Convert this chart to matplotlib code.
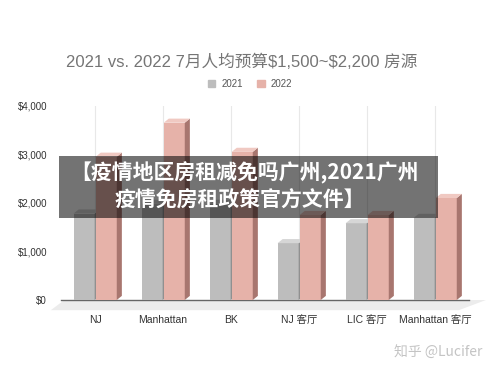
import matplotlib.pyplot as plt
from matplotlib.patches import Polygon, Patch, Rectangle

plt.rcParams['font.family'] = ['Liberation Sans', 'Noto Sans CJK SC', 'DejaVu Sans']

# data
categories = ["NJ", "Manhattan", "BK", "NJ 客厅", "LIC 客厅", "Manhattan 客厅"]
rent_2021 = [1780, 1980, 1980, 1170, 1580, 1690]
rent_2022 = [2950, 3650, 3050, 1750, 1750, 2100]
yticks = [0, 1000, 2000, 3000, 4000]
ytick_labels = ["\\$0", "\\$1,000", "\\$2,000", "\\$3,000", "\\$4,000"]

fig = plt.figure(figsize=(5, 3.75), dpi=100)
ax = fig.add_axes([0.122, 0.2, 0.816, 0.518])

x = list(range(len(categories)))
w = 0.31
dx, dy = 0.075, 85  # fake 3d depth

def bars3d(xs, vals, front, top, side):
    rects = ax.bar(xs, vals, width=w, color=front, zorder=3, clip_on=False)
    for r in rects:
        x0 = r.get_x()
        x1 = x0 + r.get_width()
        h = r.get_height()
        ax.add_patch(Polygon([(x1, 0), (x1 + dx, dy), (x1 + dx, h + dy), (x1, h)],
                             facecolor=side, edgecolor="none", zorder=3, clip_on=False))
        ax.add_patch(Polygon([(x0, h), (x1, h), (x1 + dx, h + dy), (x0 + dx, h + dy)],
                             facecolor=top, edgecolor="none", zorder=3, clip_on=False))

# floor
ax.add_patch(Polygon([(-0.65, -210), (5.35, -210), (5.75, 0), (-0.45, 0)],
                     facecolor="#ececec", edgecolor="none", zorder=1, clip_on=False))
ax.plot([-0.5, 5.5], [0, 0], color="#666666", lw=1, zorder=2, clip_on=False)

bars3d([i - 0.16 for i in x], rent_2021, "#bdbdbd", "#d6d6d6", "#909090")
bars3d([i + 0.165 for i in x], rent_2022, "#e6b2a9", "#f0c9c2", "#a8766f")

ax.set_xlim(-0.5, 5.5)
ax.set_ylim(0, 4000)
ax.set_xticks(x)
ax.set_xticklabels(categories, fontsize=7.5, color="#333333")
ax.set_yticks(yticks)
ax.set_yticklabels(ytick_labels, fontsize=7, color="#333333")
ax.tick_params(length=0)
ax.tick_params(axis="x", pad=11)
ax.tick_params(axis="y", pad=10)
ax.grid(axis="x", color="#e8e8e8", lw=0.8, zorder=0)
for s in ax.spines.values():
    s.set_visible(False)

fig.text(0.484, 0.835, "2021 vs. 2022 7月人均预算\\$1,500~\\$2,200 房源",
         ha="center", va="center", fontsize=12, color="#757575")
handles = [Patch(color="#bdbdbd"), Patch(color="#e6b2a9")]
fig.legend(handles, ["2021", "2022"], loc="center", bbox_to_anchor=(0.5, 1 - 84 / 375),
           ncol=2, frameon=False, fontsize=7, handlelength=0.8, handleheight=0.8,
           columnspacing=1.5, handletextpad=0.6, labelcolor="#555555")

# overlay banner
fig.add_artist(Rectangle((0.118, 0.4187), 0.758, 0.165, transform=fig.transFigure,
                         facecolor="black", alpha=0.55, edgecolor="none", zorder=10))
fig.text(0.49, 1 - 173 / 375, "【疫情地区房租减免吗广州,2021广州", ha="center", va="center",
         fontsize=15, fontweight="bold", color="white", zorder=11,
         family=["Noto Sans CJK SC", "DejaVu Sans"])
fig.text(0.48, 1 - 200 / 375, "疫情免房租政策官方文件】", ha="center", va="center",
         fontsize=15, fontweight="bold", color="white", zorder=11,
         family=["Noto Sans CJK SC", "DejaVu Sans"])

fig.text(0.877, 1 - 353 / 375, "知乎 @Lucifer", ha="center", va="center",
         fontsize=10, color="#c4c4c4", family=["Noto Sans CJK SC", "DejaVu Sans"])

fig.savefig("out.png", dpi=100)
